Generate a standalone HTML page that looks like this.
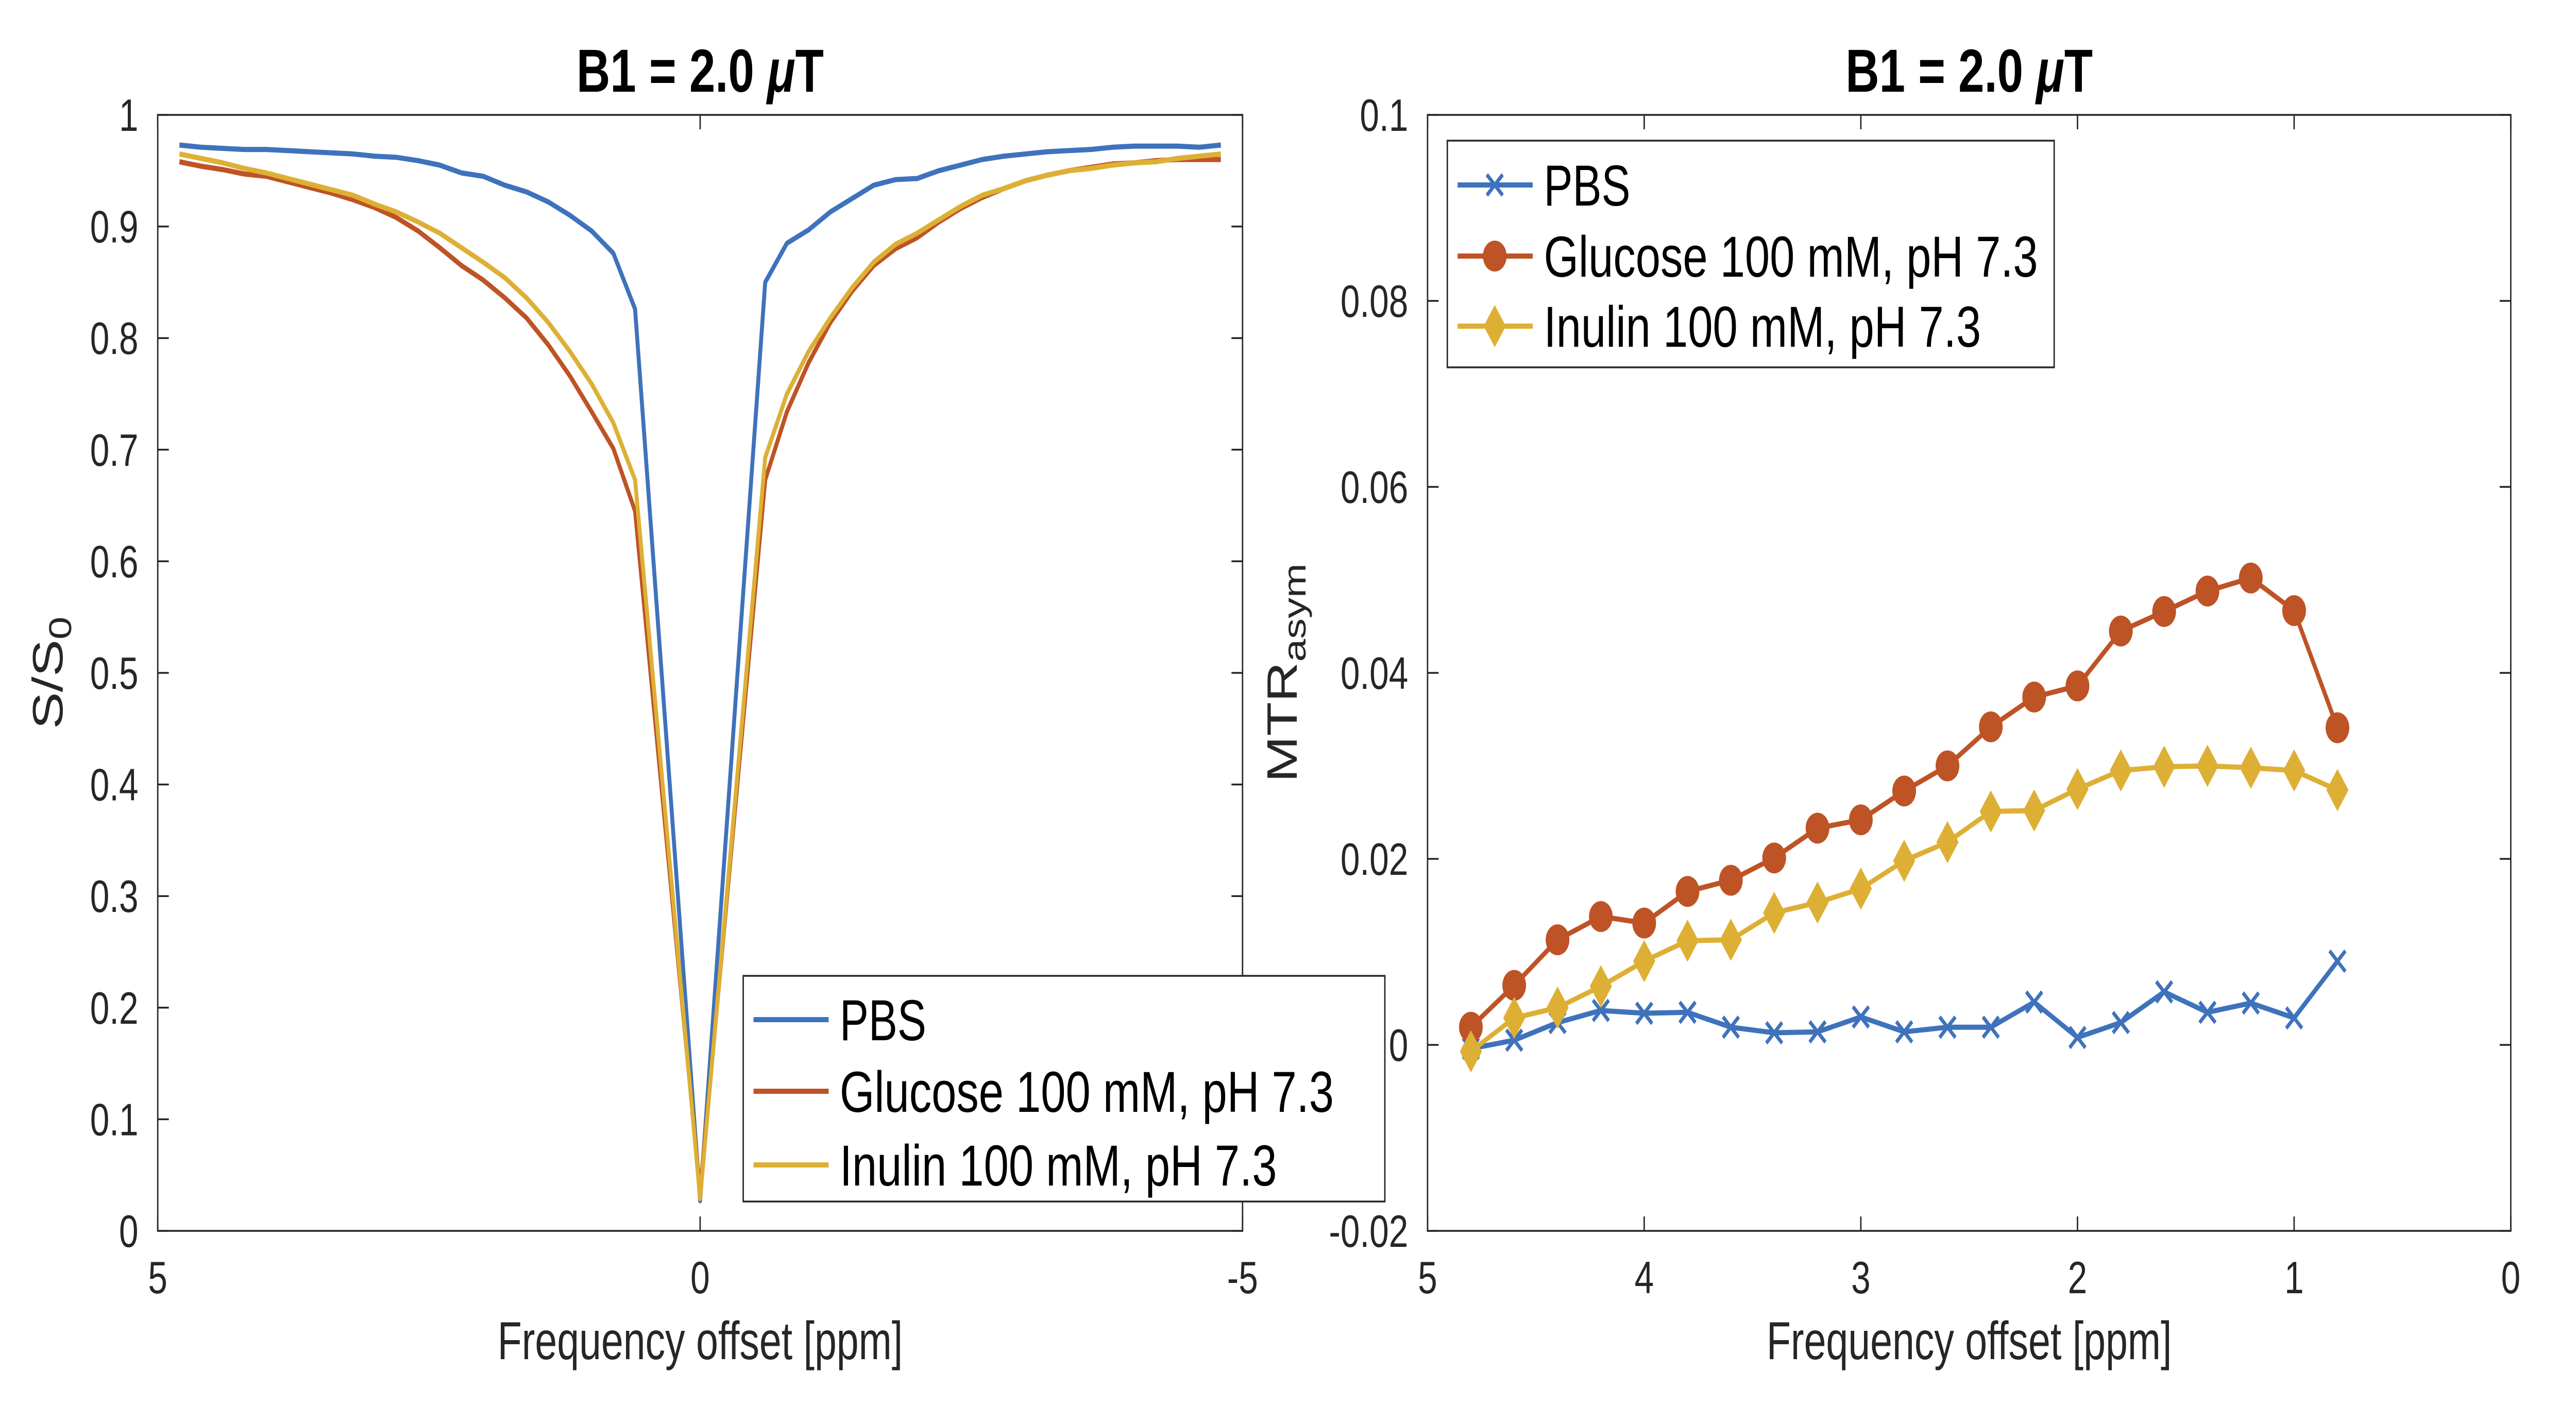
<!DOCTYPE html>
<html><head><meta charset="utf-8"><style>
html,body{margin:0;padding:0;background:#fff;width:100%;height:100%;overflow:hidden;}
svg{display:block;font-family:"Liberation Sans",Arial,sans-serif;width:100vw;height:100vh;}
</style></head><body>
<svg id="fig" viewBox="0 0 6516 2725" preserveAspectRatio="none" xmlns="http://www.w3.org/2000/svg">
<rect x="0" y="0" width="6516" height="2725" fill="#fff"/>
<g id="left"></g>
<g id="right"></g>
</svg>
<script>
// ---- Left chart data (Z-spectrum) ----
const zOffsets = [4.8,4.6,4.4,4.2,4.0,3.8,3.6,3.4,3.2,3.0,2.8,2.6,2.4,2.2,2.0,1.8,1.6,1.4,1.2,1.0,0.8,0.6,0,-0.6,-0.8,-1.0,-1.2,-1.4,-1.6,-1.8,-2.0,-2.2,-2.4,-2.6,-2.8,-3.0,-3.2,-3.4,-3.6,-3.8,-4.0,-4.2,-4.4,-4.6,-4.8];
const zPBS = [0.973,0.971,0.970,0.969,0.969,0.968,0.967,0.966,0.965,0.963,0.962,0.959,0.955,0.948,0.945,0.937,0.931,0.922,0.910,0.896,0.876,0.826,0.027,0.850,0.885,0.897,0.913,0.925,0.937,0.942,0.943,0.950,0.955,0.960,0.963,0.965,0.967,0.968,0.969,0.971,0.972,0.972,0.972,0.971,0.973];
const zGlucose = [0.958,0.954,0.951,0.947,0.945,0.940,0.935,0.930,0.924,0.917,0.908,0.896,0.881,0.865,0.852,0.836,0.818,0.794,0.766,0.734,0.701,0.645,0.035,0.673,0.734,0.778,0.814,0.842,0.865,0.880,0.890,0.904,0.916,0.926,0.934,0.941,0.946,0.950,0.953,0.956,0.957,0.959,0.960,0.960,0.960];
const zInulin = [0.965,0.961,0.957,0.952,0.948,0.943,0.938,0.933,0.928,0.920,0.913,0.904,0.894,0.881,0.868,0.854,0.836,0.814,0.788,0.759,0.724,0.673,0.029,0.693,0.750,0.788,0.818,0.845,0.868,0.884,0.894,0.906,0.918,0.928,0.934,0.941,0.946,0.950,0.952,0.955,0.957,0.958,0.961,0.963,0.965];
const zXTicks = [5,0,-5];
const zYTicks = [0,0.1,0.2,0.3,0.4,0.5,0.6,0.7,0.8,0.9,1];
const zYTickLabels = ["0","0.1","0.2","0.3","0.4","0.5","0.6","0.7","0.8","0.9","1"];
// ---- Right chart data (MTR asym) ----
const mOffsets = [4.8,4.6,4.4,4.2,4.0,3.8,3.6,3.4,3.2,3.0,2.8,2.6,2.4,2.2,2.0,1.8,1.6,1.4,1.2,1.0,0.8];
const mPBS = [-0.0004,0.0005,0.0024,0.0037,0.0034,0.0035,0.0019,0.0013,0.0014,0.0030,0.0014,0.0019,0.0019,0.0046,0.0008,0.0024,0.0057,0.0035,0.0045,0.0029,0.0090];
const mGlucose = [0.0019,0.0064,0.0113,0.0138,0.0131,0.0165,0.0177,0.0201,0.0233,0.0242,0.0273,0.0300,0.0342,0.0374,0.0386,0.0445,0.0466,0.0488,0.0502,0.0467,0.0341];
const mInulin = [-0.0007,0.0029,0.0040,0.0063,0.0090,0.0112,0.0113,0.0142,0.0153,0.0168,0.0198,0.0218,0.0251,0.0252,0.0275,0.0295,0.0299,0.0300,0.0298,0.0295,0.0274];
const mXTicks = [5,4,3,2,1,0];
const mYTicks = [-0.02,0,0.02,0.04,0.06,0.08,0.1];
const mYTickLabels = ["-0.02","0","0.02","0.04","0.06","0.08","0.1"];

const NS="http://www.w3.org/2000/svg";
const C_BLUE="#3F72BC", C_ORANGE="#BE5326", C_YELLOW="#DDB035", AX="#262626";
function mk(tag, attrs, parent){const e=document.createElementNS(NS,tag);for(const k in attrs)e.setAttribute(k,attrs[k]);parent.appendChild(e);return e;}

function axes(g, L, R, T, B, xmin, xmax, ymin, ymax, xt, yt, ytl){
  const X=v=>L+(xmin-v)/(xmin-xmax)*(R-L);
  const Y=v=>B-(v-ymin)/(ymax-ymin)*(B-T);
  const frame=mk('rect',{x:L,y:T,width:R-L,height:B-T,fill:'none',stroke:AX,'stroke-width':3.5},g);
  
  
  xt.forEach(v=>{
    const x=X(v);
    const t1=mk('line',{x1:x,y1:B,x2:x,y2:B-28,stroke:AX,'stroke-width':3.5},g);
    
    
    const t2=mk('line',{x1:x,y1:T,x2:x,y2:T+28,stroke:AX,'stroke-width':3.5},g);
    
    
    const lb=mk('text',{x:x,y:2510,'text-anchor':'middle','font-size':88,fill:AX},g);
    lb.textContent=String(v);
    
    
  });
  yt.forEach((v,i)=>{
    const y=Y(v);
    const t1=mk('line',{x1:L,y1:y,x2:L+28,y2:y,stroke:AX,'stroke-width':3.5},g);
    
    
    const t2=mk('line',{x1:R,y1:y,x2:R-28,y2:y,stroke:AX,'stroke-width':3.5},g);
    
    
    const lb=mk('text',{x:L-49,y:y+31,'text-anchor':'end','font-size':88,fill:AX},g);
    lb.textContent=ytl[i];
    
    
  });
  return {X,Y};
}
function series(g, xs, ys, X, Y, color, name){
  const pts=xs.map((x,i)=>X(x).toFixed(1)+','+Y(ys[i]).toFixed(1)).join(' ');
  const p=mk('polyline',{points:pts,fill:'none',stroke:color,'stroke-width':10,'stroke-linejoin':'round'},g);
  
  
}
function marker(g, type, cx, cy, color){
  let m;
  if(type==='x'){
    m=mk('path',{d:`M${cx-20},${cy-20}L${cx+20},${cy+20}M${cx-20},${cy+20}L${cx+20},${cy-20}`,stroke:color,'stroke-width':8,fill:'none'},g);
  } else if(type==='o'){
    m=mk('circle',{cx:cx,cy:cy,r:30,fill:color},g);
  } else {
    m=mk('path',{d:`M${cx},${cy-41}L${cx+28},${cy}L${cx},${cy+41}L${cx-28},${cy}Z`,fill:color},g);
  }
  return m;
}
function titleText(g, cx){
  const t=mk('text',{x:cx,y:178,'text-anchor':'middle','font-size':118,'font-weight':'bold',fill:'#000'},g);
  t.innerHTML='B1 = 2.0 <tspan font-style="italic">μ</tspan>T';
  
  
}
function xTitle(g, cx){
  const t=mk('text',{x:cx,y:2638,'text-anchor':'middle','font-size':104,fill:AX,textLength:1025,lengthAdjust:'spacingAndGlyphs'},g);
  t.textContent='Frequency offset [ppm]';
  
  
}
function legend(g, x0, y0, x1, y1, entries, withMarkers){
  const lg=mk('g',{},g);
  
  
  mk('rect',{x:x0,y:y0,width:x1-x0,height:y1-y0,fill:'#fff',stroke:AX,'stroke-width':3.5},lg);
  entries.forEach(e=>{
    const eg=mk('g',{},lg);
    
    
    mk('line',{x1:x0+26,y1:e.y,x2:x0+216,y2:e.y,stroke:e.color,'stroke-width':10},eg);
    if(withMarkers) marker(eg,e.m,x0+120,e.y,e.color);
    const t=mk('text',{x:x0+244,y:e.y+40,'font-size':112,fill:'#000',textLength:e.w,lengthAdjust:'spacingAndGlyphs'},eg);
    t.textContent=e.label;
  });
}

// ---- Left chart ----
const gl=document.getElementById('left');
const A=axes(gl,399,3143,223,2389,5,-5,0,1,zXTicks,zYTicks,zYTickLabels);
series(gl,zOffsets,zPBS,A.X,A.Y,C_BLUE,'line-pbs');
series(gl,zOffsets,zGlucose,A.X,A.Y,C_ORANGE,'line-glucose');
series(gl,zOffsets,zInulin,A.X,A.Y,C_YELLOW,'line-inulin');
titleText(gl,1771);
xTitle(gl,1771);
const yl=mk('text',{x:0,y:0,'text-anchor':'middle','font-size':108,fill:AX,transform:'translate(158,1306) rotate(-90)'},gl);
yl.innerHTML='S/S<tspan font-size="80" dy="22">0</tspan>';


legend(gl,1880,1894,3503,2332,[
  {y:1979,color:C_BLUE,label:'PBS',w:219,m:'x'},
  {y:2118,color:C_ORANGE,label:'Glucose 100 mM, pH 7.3',w:1250,m:'o'},
  {y:2261,color:C_YELLOW,label:'Inulin 100 mM, pH 7.3',w:1106,m:'d'}],false);

// ---- Right chart ----
const gr=document.getElementById('right');
const B=axes(gr,3611,6351,223,2389,5,0,-0.02,0.1,mXTicks,mYTicks,mYTickLabels);
series(gr,mOffsets,mPBS,B.X,B.Y,C_BLUE,'line-pbs');
series(gr,mOffsets,mGlucose,B.X,B.Y,C_ORANGE,'line-glucose');
series(gr,mOffsets,mInulin,B.X,B.Y,C_YELLOW,'line-inulin');
mOffsets.forEach((x,i)=>{
  const a=marker(gr,'x',B.X(x),B.Y(mPBS[i]),C_BLUE);
  
  
  const b=marker(gr,'o',B.X(x),B.Y(mGlucose[i]),C_ORANGE);
  
  
  const c=marker(gr,'d',B.X(x),B.Y(mInulin[i]),C_YELLOW);
  
  
});
titleText(gr,4981);
xTitle(gr,4981);
const yr=mk('text',{x:0,y:0,'text-anchor':'middle','font-size':108,fill:AX,transform:'translate(3280,1306) rotate(-90)'},gr);
yr.innerHTML='MTR<tspan font-size="80" dy="22">asym</tspan>';


legend(gr,3661,273,5196,713,[
  {y:359,color:C_BLUE,label:'PBS',w:219,m:'x'},
  {y:497,color:C_ORANGE,label:'Glucose 100 mM, pH 7.3',w:1250,m:'o'},
  {y:633,color:C_YELLOW,label:'Inulin 100 mM, pH 7.3',w:1106,m:'d'}],true);
</script>
</body></html>
